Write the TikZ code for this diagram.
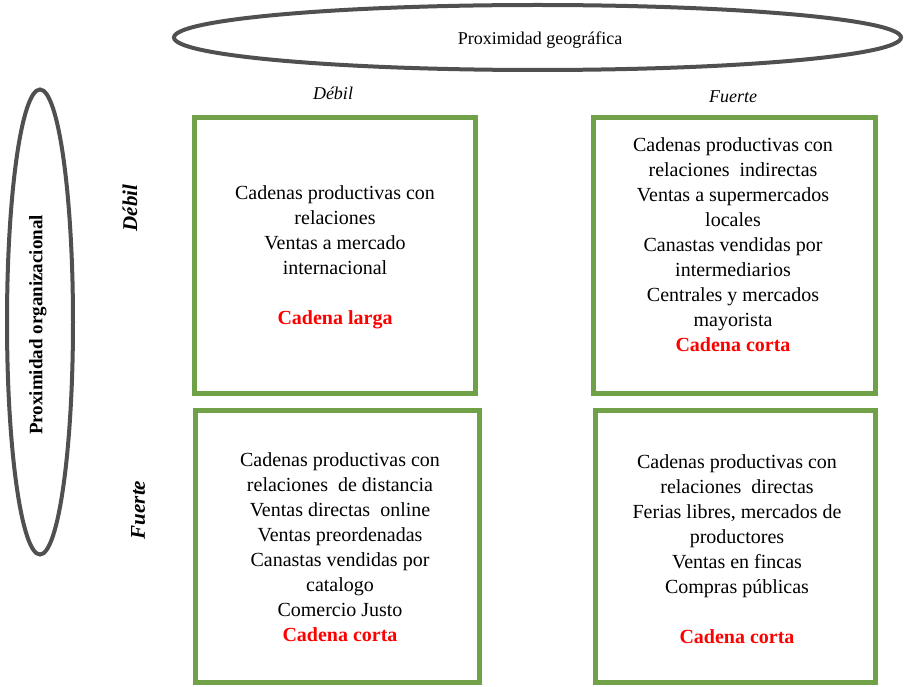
\documentclass[tikz,border=0pt]{standalone}
\usepackage{fontspec}
\setmainfont{Liberation Serif}
\usetikzlibrary{shapes.geometric}
\definecolor{boxgreen}{RGB}{112,160,72}
\definecolor{ellgray}{RGB}{80,80,80}
\begin{document}
\begin{tikzpicture}[x=1pt,y=-1pt,
  quad/.style={draw=boxgreen, line width=5pt, inner sep=0pt, fill=white},
  oval/.style={ellipse, draw=ellgray, line width=4pt, inner sep=0pt},
  body/.style={align=center, inner sep=0pt, font=\fontsize{20}{25}\selectfont},
  axis/.style={inner sep=0pt, font=\fontsize{18}{22}\selectfont\itshape},
  sidelab/.style={inner sep=0pt, rotate=90, font=\fontsize{21}{25}\selectfont\bfseries\itshape},
  hot/.style={}]
\useasboundingbox (0,0) rectangle (905,687);
\fill[white] (0,0) rectangle (905,687);

% ellipses
\node[oval, minimum width=727pt, minimum height=65pt] (geo) at (537.5,37.5) {};
\node[inner sep=0pt, font=\fontsize{18}{22}\selectfont] (geot) at (540,40) {Proximidad geográfica};
\node[oval, minimum width=66pt, minimum height=465pt] (org) at (40,322) {};
\node[inner sep=0pt, rotate=90, font=\fontsize{19}{22}\selectfont\bfseries] (orgt) at (38,325) {Proximidad organizacional};

% axis labels
\node[axis] (gdeb) at (333,93) {Débil};
\node[axis] (gfue) at (733,97) {Fuerte};
\node[sidelab] (odeb) at (130,208) {Débil};
\node[sidelab] (ofue) at (138,510) {Fuerte};

% boxes
\node[quad, minimum width=281pt, minimum height=276pt] (b1) at (335,255.5) {};
\node[quad, minimum width=282pt, minimum height=276pt] (b2) at (734.5,255.5) {};
\node[quad, minimum width=284pt, minimum height=272pt] (b3) at (337.5,546.5) {};
\node[quad, minimum width=280pt, minimum height=272pt] (b4) at (735.5,546.5) {};

% box texts
\node[body] (t1) at (335,257) {Cadenas productivas con\\ relaciones\\ Ventas a mercado\\ internacional\\[25pt] \textcolor{red}{\textbf{Cadena larga}}};
\node[body] (t2) at (733,245) {Cadenas productivas con\\ relaciones\ \ indirectas\\ Ventas a supermercados\\ locales\\ Canastas vendidas por\\ intermediarios\\ Centrales y mercados\\ mayorista\\ \textcolor{red}{\textbf{Cadena corta}}};
\node[body] (t3) at (340,547) {Cadenas productivas con\\ relaciones\ \ de distancia\\ Ventas directas\ \ online\\ Ventas preordenadas\\ Canastas vendidas por\\ catalogo\\ Comercio Justo\\ \textcolor{red}{\textbf{Cadena corta}}};
\node[body] (t4) at (737,549) {Cadenas productivas con\\ relaciones\ \ directas\\ Ferias libres, mercados de\\ productores\\ Ventas en fincas\\ Compras públicas\\[25pt] \textcolor{red}{\textbf{Cadena corta}}};
\end{tikzpicture}
\end{document}
